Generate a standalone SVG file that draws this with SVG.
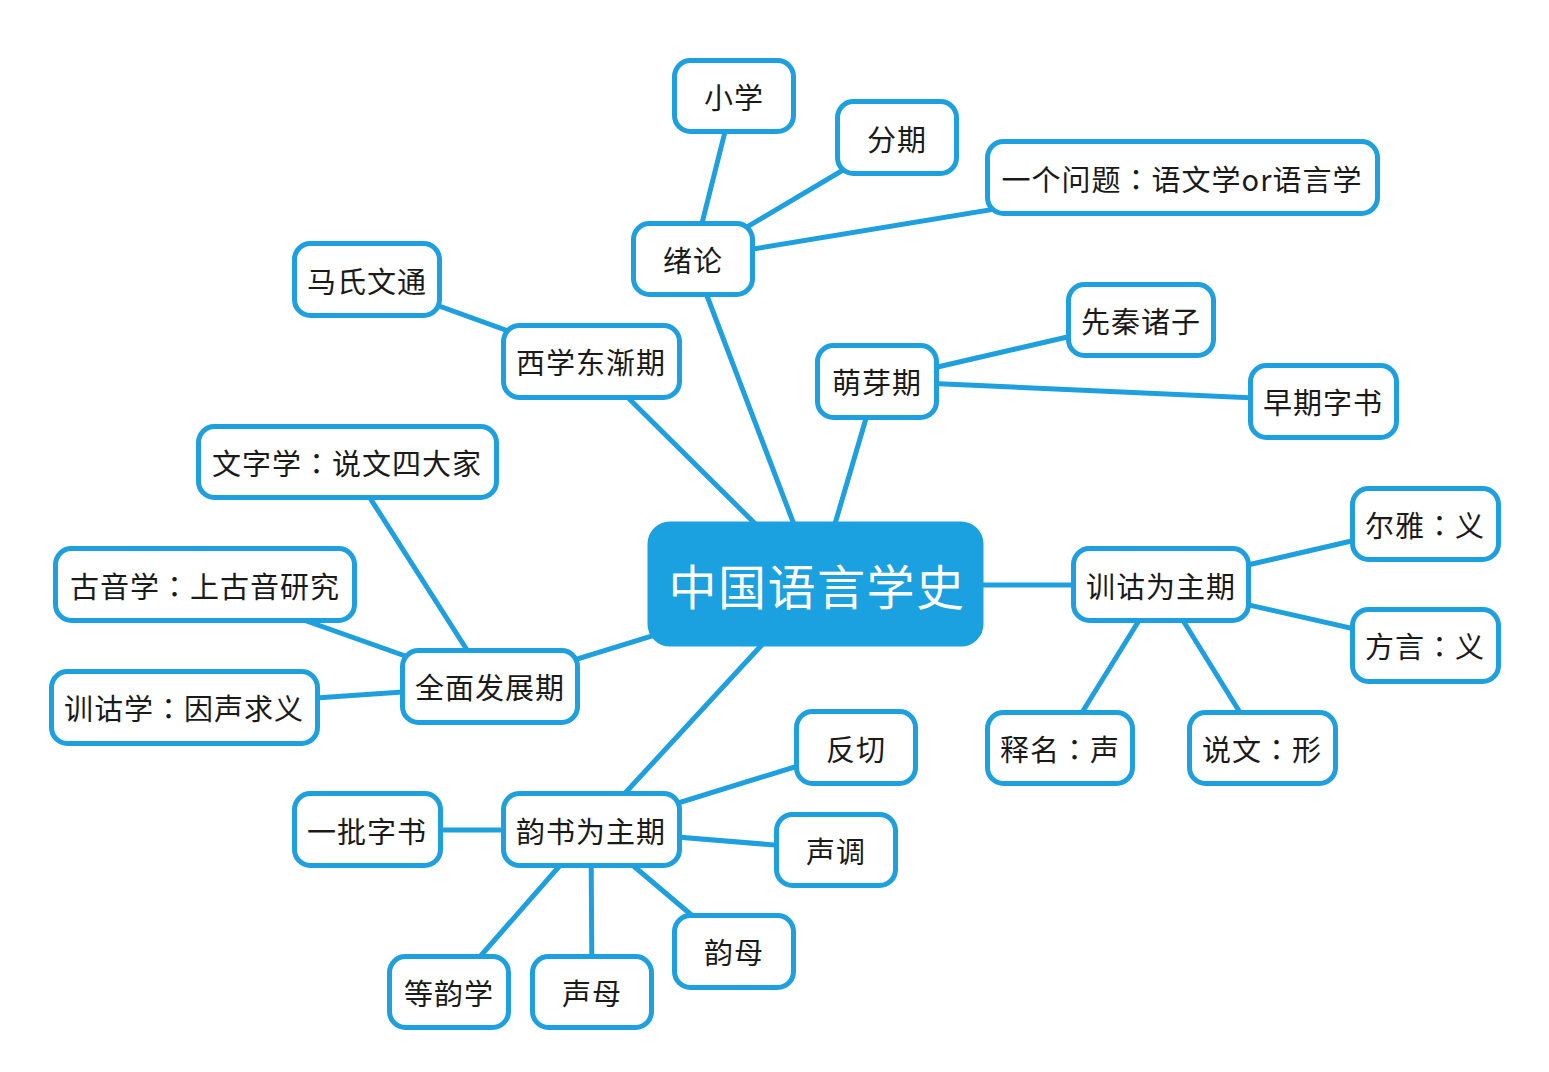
<svg xmlns="http://www.w3.org/2000/svg" width="1549" height="1072" viewBox="0 0 1549 1072">
<style>
.edge{stroke:#1ea0df;stroke-width:5;fill:none;stroke-linecap:round}
.node rect{fill:#ffffff;stroke:#1ea0df;stroke-width:5}
.node text{font-family:"Noto Sans CJK SC","Microsoft YaHei",sans-serif;font-size:29px;letter-spacing:1px;fill:#1a1a1a;text-anchor:middle;dominant-baseline:central}
.c{font-family:"Noto Sans CJK TC",sans-serif}
#root rect{fill:#1ba0e0;stroke:#1ba0e0}
#root text{fill:#ffffff;font-size:48px;letter-spacing:1.5px}
</style>
<rect width="1549" height="1072" fill="#ffffff"/>
<g id="connectors">
<line class="edge" x1="817" y1="585" x2="693" y2="259"/>
<line class="edge" x1="693" y1="259" x2="734" y2="96"/>
<line class="edge" x1="693" y1="259" x2="897" y2="138"/>
<line class="edge" x1="693" y1="259" x2="1182" y2="178"/>
<line class="edge" x1="817" y1="585" x2="591" y2="361"/>
<line class="edge" x1="591" y1="361" x2="367" y2="280"/>
<line class="edge" x1="817" y1="585" x2="877" y2="381"/>
<line class="edge" x1="877" y1="381" x2="1141" y2="320"/>
<line class="edge" x1="877" y1="381" x2="1323" y2="401"/>
<line class="edge" x1="817" y1="585" x2="1161" y2="585"/>
<line class="edge" x1="1161" y1="585" x2="1425" y2="524"/>
<line class="edge" x1="1161" y1="585" x2="1425" y2="645"/>
<line class="edge" x1="1161" y1="585" x2="1060" y2="748"/>
<line class="edge" x1="1161" y1="585" x2="1262" y2="748"/>
<line class="edge" x1="817" y1="585" x2="490" y2="686"/>
<line class="edge" x1="490" y1="686" x2="347" y2="462"/>
<line class="edge" x1="490" y1="686" x2="205" y2="585"/>
<line class="edge" x1="490" y1="686" x2="184" y2="707"/>
<line class="edge" x1="817" y1="585" x2="591" y2="830"/>
<line class="edge" x1="591" y1="830" x2="856" y2="748"/>
<line class="edge" x1="591" y1="830" x2="836" y2="850"/>
<line class="edge" x1="591" y1="830" x2="367" y2="830"/>
<line class="edge" x1="591" y1="830" x2="449" y2="992"/>
<line class="edge" x1="591" y1="830" x2="592" y2="992"/>
<line class="edge" x1="591" y1="830" x2="734" y2="951"/>
</g>
<g id="root" class="node"><rect x="650" y="524" width="331" height="120" rx="20"/><text x="817" y="584">中国语言学史</text></g>
<g id="n-xiaoxue" class="node"><rect x="674.5" y="60.5" width="119" height="71" rx="16"/><text x="734" y="96">小学</text></g>
<g id="n-fenqi" class="node"><rect x="837.5" y="101.5" width="119" height="72" rx="16"/><text x="897" y="138">分期</text></g>
<g id="n-wenti" class="node"><rect x="987.5" y="141.5" width="390" height="72" rx="16"/><text x="1182" y="178">一个问题<tspan class="c">：</tspan>语文学or语言学</text></g>
<g id="n-xulun" class="node"><rect x="633.5" y="223.5" width="119" height="71" rx="16"/><text x="693" y="259">绪论</text></g>
<g id="n-mashi" class="node"><rect x="294.5" y="243.5" width="145" height="72" rx="16"/><text x="367" y="280">马氏文通</text></g>
<g id="n-xixue" class="node"><rect x="503.5" y="325.5" width="176" height="72" rx="16"/><text x="591" y="361">西学东渐期</text></g>
<g id="n-mengya" class="node"><rect x="817.5" y="345.5" width="119" height="72" rx="16"/><text x="877" y="381">萌芽期</text></g>
<g id="n-xianqin" class="node"><rect x="1068.5" y="284.5" width="145" height="71" rx="16"/><text x="1141" y="320">先秦诸子</text></g>
<g id="n-zaoqi" class="node"><rect x="1250.5" y="365.5" width="146" height="72" rx="16"/><text x="1323" y="401">早期字书</text></g>
<g id="n-wenzi" class="node"><rect x="198.5" y="426.5" width="298" height="71" rx="16"/><text x="347" y="462">文字学<tspan class="c">：</tspan>说文四大家</text></g>
<g id="n-guyin" class="node"><rect x="55.5" y="548.5" width="299" height="72" rx="16"/><text x="205" y="585">古音学<tspan class="c">：</tspan>上古音研究</text></g>
<g id="n-quanmian" class="node"><rect x="402.5" y="650.5" width="175" height="72" rx="16"/><text x="490" y="686">全面发展期</text></g>
<g id="n-xungu-xue" class="node"><rect x="51.5" y="671.5" width="266" height="72" rx="16"/><text x="184" y="707">训诂学<tspan class="c">：</tspan>因声求义</text></g>
<g id="n-xungu" class="node"><rect x="1073.5" y="548.5" width="175" height="72" rx="16"/><text x="1161" y="585">训诂为主期</text></g>
<g id="n-erya" class="node"><rect x="1352.5" y="488.5" width="146" height="71" rx="16"/><text x="1425" y="524">尔雅<tspan class="c">：</tspan>义</text></g>
<g id="n-fangyan" class="node"><rect x="1352.5" y="609.5" width="146" height="72" rx="16"/><text x="1425" y="645">方言<tspan class="c">：</tspan>义</text></g>
<g id="n-shiming" class="node"><rect x="987.5" y="712.5" width="145" height="71" rx="16"/><text x="1060" y="748">释名<tspan class="c">：</tspan>声</text></g>
<g id="n-shuowen" class="node"><rect x="1189.5" y="712.5" width="146" height="71" rx="16"/><text x="1262" y="748">说文<tspan class="c">：</tspan>形</text></g>
<g id="n-fanqie" class="node"><rect x="796.5" y="711.5" width="119" height="72" rx="16"/><text x="856" y="748">反切</text></g>
<g id="n-yipi" class="node"><rect x="294.5" y="793.5" width="146" height="72" rx="16"/><text x="367" y="830">一批字书</text></g>
<g id="n-yunshu" class="node"><rect x="503.5" y="793.5" width="176" height="72" rx="16"/><text x="591" y="830">韵书为主期</text></g>
<g id="n-shengdiao" class="node"><rect x="776.5" y="814.5" width="119" height="71" rx="16"/><text x="836" y="850">声调</text></g>
<g id="n-yunmu" class="node"><rect x="674.5" y="915.5" width="119" height="72" rx="16"/><text x="734" y="951">韵母</text></g>
<g id="n-dengyun" class="node"><rect x="389.5" y="956.5" width="119" height="71" rx="16"/><text x="449" y="992">等韵学</text></g>
<g id="n-shengmu" class="node"><rect x="532.5" y="956.5" width="119" height="71" rx="16"/><text x="592" y="992">声母</text></g>
</svg>
